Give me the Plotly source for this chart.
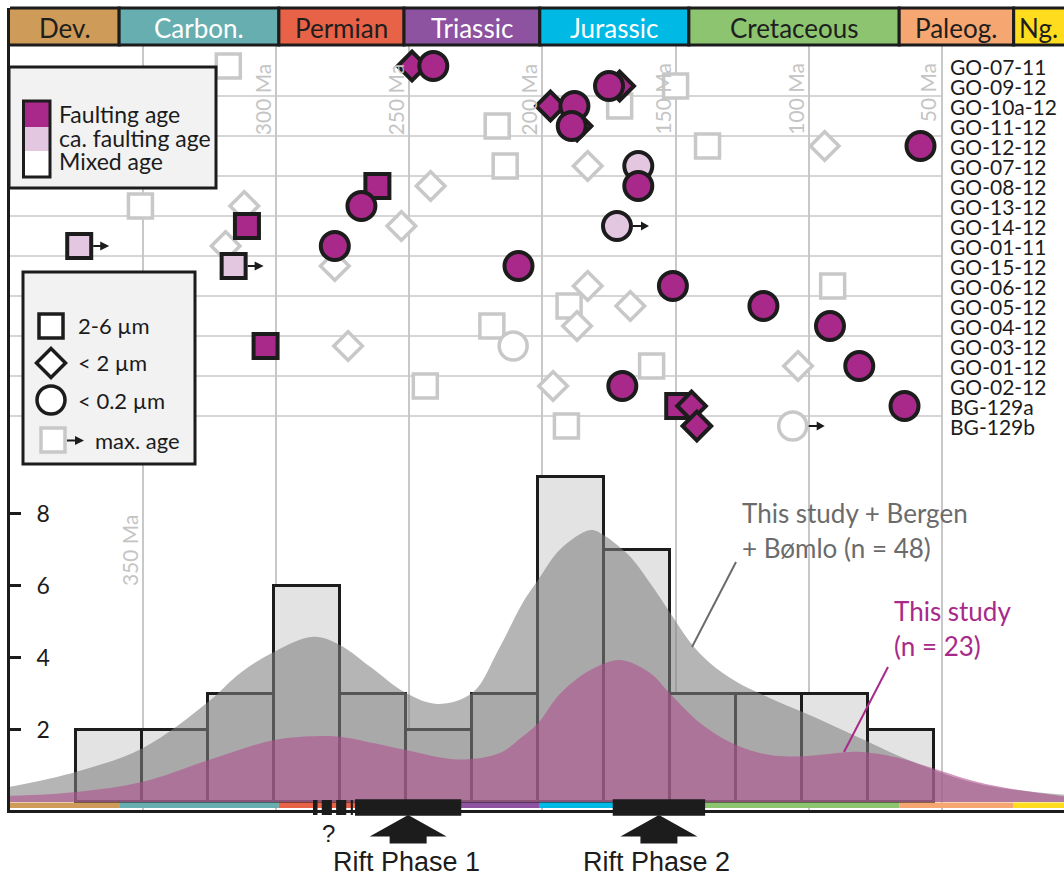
import plotly.graph_objects as go

# ---------------- data ----------------
samples = ["GO-07-11", "GO-09-12", "GO-10a-12", "GO-11-12", "GO-12-12", "GO-07-12",
           "GO-08-12", "GO-13-12", "GO-14-12", "GO-01-11", "GO-15-12", "GO-06-12",
           "GO-05-12", "GO-04-12", "GO-03-12", "GO-01-12", "GO-02-12", "BG-129a", "BG-129b"]

# K-Ar ages (Ma) per grain-size fraction; type: F = faulting age, C = ca. faulting age, M = mixed age
age_2_6um = [318, 150, 171, 217, 138, 214, 262, 351, 311, 374, 316, 91, 190, 219, 304, 159, 244, 149, 191]
type_2_6um = ["M", "M", "M", "M", "M", "M", "F", "M", "F", "C", "C", "M", "M", "M", "F", "M", "M", "F", "M"]
age_lt2um = [249, 171, 197, 187, 94, 183, 242, 312, 253, 319, 278, 183, 167, 187, 273, 104, 196, 144, 142]
type_lt2um = ["F", "F", "F", "F", "M", "M", "M", "M", "M", "M", "M", "M", "M", "M", "M", "M", "M", "F", "F"]
age_lt02um = [241, 175, 188, 189, 58, 164, 164, 268, 172, 278, 209, 151, 117, 92, 211, 81, 170, 64, 106]
type_lt02um = ["F", "F", "F", "F", "F", "C", "F", "F", "C", "F", "F", "F", "F", "F", "M", "F", "F", "F", "M"]
# samples whose age is a maximum age
max_age_2_6um = ["GO-01-11", "GO-15-12"]
max_age_lt02um = ["GO-14-12", "BG-129b"]

# geological periods
period_names = ["Dev.", "Carbon.", "Permian", "Triassic", "Jurassic", "Cretaceous", "Paleog.", "Ng."]
period_start = [419, 359, 299, 252, 201, 145, 66, 23]
period_end = [359, 299, 252, 201, 145, 66, 23, 0]
period_colors = ["#cf9b58", "#66aeb0", "#e86248", "#8d52a0", "#00b9e4", "#8cc470", "#f6a670", "#ffdd1e"]
period_text = ["#1e1e1e", "#ffffff", "#1e1e1e", "#ffffff", "#ffffff", "#1e1e1e", "#1e1e1e", "#1e1e1e"]

# histogram (This study + Bergen + Bomlo, n = 48)
hist_center = [362.7, 337.9, 313.1, 288.3, 263.5, 238.8, 214.0, 189.2, 164.4, 139.6, 114.9, 90.1, 65.3]
hist_count = [2, 2, 3, 6, 3, 2, 3, 9, 7, 3, 3, 3, 2]
HIST_WIDTH = 24.8

# density curves (scaled to counts)
all_kde_age = [400, 375, 350, 325.5, 313.5, 300.7, 286, 276, 264.7, 251.2, 239.5, 226.4, 216, 207.6,
               201.6, 193.4, 182, 177, 167, 159.6, 152, 144.6, 137, 127.3, 114.5, 102.5, 90, 77.7,
               65.7, 53, 39.4, 28, 4]
all_kde_val = [0.42, 0.84, 1.5, 2.78, 3.58, 4.17, 4.58, 4.35, 3.75, 3.02, 2.72, 3.02, 4.3, 5.5,
               6.16, 7.0, 7.54, 7.4, 6.8, 6.07, 5.24, 4.44, 3.85, 3.34, 2.88, 2.5, 2.09, 1.67,
               1.26, 0.89, 0.56, 0.39, 0.2]
this_kde_age = [400, 375, 350, 325.5, 300.7, 283.5, 276, 251.2, 232, 216, 207.6, 201.6, 193.4, 182,
                170.8, 159.6, 152, 140.8, 127.3, 114.5, 102.5, 84.5, 77.7, 65.7, 53, 39.4, 28, 4]
this_kde_val = [0.17, 0.28, 0.56, 1.16, 1.72, 1.83, 1.81, 1.44, 1.18, 1.36, 1.81, 2.19, 3.0, 3.66,
                3.94, 3.58, 3.0, 2.19, 1.58, 1.3, 1.27, 1.39, 1.37, 1.21, 0.93, 0.61, 0.42, 0.15]

# rift phases (Ma)
rift_names = ["Rift Phase 1", "Rift Phase 2"]
rift_start = [270.4, 173.6]
rift_end = [230.5, 138.9]
rift1_uncertain_start = [286.2, 282.9, 277.5, 272.0]
rift1_uncertain_end = [284.5, 279.1, 273.7, 271.2]

grid_ma = [50, 100, 150, 200, 250, 300, 350]
hist_ticks = [2, 4, 6, 8]

# ---------------- geometry helpers ----------------
PL, PR, PT, PB = 10, 1064, 8, 810
AGE_L, AGE_R = 400.0, 4.1
ROW0_PX, ROW_PX = 66, 20
C0_PX, C_PX = 802, 36.06


def fx(px):
    return (px - PL) / (PR - PL)


def fy(py):
    return (PB - py) / (PB - PT)


FONT = "Lato, 'Open Sans', sans-serif"
INK = "#1c1c1c"
MAG = "#a8298a"
PINK = "#e3c6e0"
GREY = "#c8c8c8"

fig = go.Figure()

# histogram + density curves
fig.add_trace(go.Bar(x=hist_center, y=hist_count, width=HIST_WIDTH, yaxis="y2",
                     marker=dict(color="#e3e3e3", line=dict(color=INK, width=3)),
                     hoverinfo="skip"))
fig.add_trace(go.Scatter(x=all_kde_age, y=all_kde_val, yaxis="y2", mode="lines",
                         line=dict(width=0, shape="spline", smoothing=1.0, color="rgba(0,0,0,0)"),
                         fill="tozeroy", fillcolor="rgba(127,127,127,0.58)", hoverinfo="skip"))
fig.add_trace(go.Scatter(x=this_kde_age, y=this_kde_val, yaxis="y2", mode="lines",
                         line=dict(width=0, shape="spline", smoothing=1.0, color="rgba(0,0,0,0)"),
                         fill="tozeroy", fillcolor="rgba(176,81,143,0.6)", hoverinfo="skip"))

# sample points
SYM = {"2-6": ("square", 24), "<2": ("diamond", 22), "<0.2": ("circle", 28)}
FILL = {"F": MAG, "C": PINK, "M": "#ffffff"}
EDGE = {"F": (INK, 4), "C": (INK, 4), "M": (GREY, 3.5)}
fractions = [("2-6", age_2_6um, type_2_6um), ("<2", age_lt2um, type_lt2um),
             ("<0.2", age_lt02um, type_lt02um)]
for cat in ["M", "C", "F"]:
    for key, ages, types in fractions:
        xs = [a for a, t in zip(ages, types) if t == cat]
        ys = [i for i, t in enumerate(types) if t == cat]
        if not xs:
            continue
        sym, size = SYM[key]
        fig.add_trace(go.Scatter(x=xs, y=ys, mode="markers", hoverinfo="skip",
                                 marker=dict(symbol=sym, size=size, color=FILL[cat],
                                             line=dict(color=EDGE[cat][0], width=EDGE[cat][1]))))

shapes = []
annotations = []


def text(x, y, s, size, color, xref="paper", yref="paper", xanchor="left", yanchor="middle",
         family=FONT, **kw):
    annotations.append(dict(x=x, y=y, xref=xref, yref=yref, text=s, xanchor=xanchor, yanchor=yanchor,
                            showarrow=False, font=dict(family=family, size=size, color=color), **kw))


# horizontal gridlines (between sample pairs)
for k in range(1, len(samples) - 1, 2):
    shapes.append(dict(type="line", xref="x", yref="y", x0=400, x1=50, y0=k + 0.5, y1=k + 0.5,
                       line=dict(color=GREY, width=1.5), layer="below"))


# max-age arrows
def arrow_path(tail, head, tip, hh=4.5, sh=1.1):
    return (f"M {tail},{-sh} L {head},{-sh} L {head},{-hh} L {tip},0 "
            f"L {head},{hh} L {head},{sh} L {tail},{sh} Z")


for name in max_age_2_6um:
    i = samples.index(name)
    shapes.append(dict(type="path", xref="x", yref="y", xsizemode="pixel", ysizemode="pixel",
                       xanchor=age_2_6um[i], yanchor=i, path=arrow_path(14, 21, 30),
                       fillcolor=INK, line=dict(width=0), layer="above"))
for name in max_age_lt02um:
    i = samples.index(name)
    shapes.append(dict(type="path", xref="x", yref="y", xsizemode="pixel", ysizemode="pixel",
                       xanchor=age_lt02um[i], yanchor=i, path=arrow_path(16, 24, 32),
                       fillcolor=INK, line=dict(width=0), layer="above"))

# period bar (top) and strip (bottom)
for name, s, e, col, tcol in zip(period_names, period_start, period_end, period_colors, period_text):
    shapes.append(dict(type="rect", xref="x", yref="paper", x0=s, x1=e, y0=fy(45), y1=fy(8),
                       fillcolor=col, line=dict(color=INK, width=3), layer="above"))
    shapes.append(dict(type="rect", xref="x", yref="paper", x0=s, x1=e, y0=fy(808), y1=fy(802.5),
                       fillcolor=col, line=dict(width=0), layer="above"))
    vis_s, vis_e = min(s, AGE_L), max(e, AGE_R)
    text((vis_s + vis_e) / 2, fy(27.5), name, 26, tcol, xref="x", xanchor="center")

# gridline labels
for ma in grid_ma:
    top = 512 if ma == 350 else 61
    text(ma, fy(top), f"{ma} Ma", 21, "#c4c4c4", xref="x", xanchor="center", yanchor="top",
         textangle=-90, xshift=-14)

# sample labels
for i, name in enumerate(samples):
    text(fx(948), i, name, 21, INK, yref="y")

# legend box 1 (age meaning)
shapes.append(dict(type="rect", xref="paper", yref="paper", x0=fx(9), x1=fx(216), y0=fy(188), y1=fy(67),
                   fillcolor="#f2f2f2", line=dict(color=INK, width=3), layer="above"))
for c, a, b in [(MAG, 101, 127), (PINK, 127, 151), ("#ffffff", 151, 177)]:
    shapes.append(dict(type="rect", xref="paper", yref="paper", x0=fx(23.5), x1=fx(50), y0=fy(b), y1=fy(a),
                       fillcolor=c, line=dict(width=0), layer="above"))
shapes.append(dict(type="rect", xref="paper", yref="paper", x0=fx(23.5), x1=fx(50), y0=fy(177), y1=fy(101),
                   fillcolor="rgba(0,0,0,0)", line=dict(color=INK, width=3), layer="above"))
for txt, yy in [("Faulting age", 114), ("ca. faulting age", 137.5), ("Mixed age", 161)]:
    text(fx(57), fy(yy), txt, 23, INK)

# legend box 2 (grain size)
shapes.append(dict(type="rect", xref="paper", yref="paper", x0=fx(23), x1=fx(195), y0=fy(464), y1=fy(272),
                   fillcolor="#f2f2f2", line=dict(color=INK, width=3), layer="above"))
cx = 51
shapes.append(dict(type="rect", xref="paper", yref="paper", x0=fx(cx - 12), x1=fx(cx + 12),
                   y0=fy(326 + 12), y1=fy(326 - 12), fillcolor="#ffffff",
                   line=dict(color=INK, width=3.5), layer="above"))
d = 14.5
shapes.append(dict(type="path", xref="paper", yref="paper",
                   path=(f"M {fx(cx - d)},{fy(363)} L {fx(cx)},{fy(363 - d)} L {fx(cx + d)},{fy(363)} "
                         f"L {fx(cx)},{fy(363 + d)} Z"),
                   fillcolor="#ffffff", line=dict(color=INK, width=3.5), layer="above"))
shapes.append(dict(type="circle", xref="paper", yref="paper", x0=fx(cx - 14), x1=fx(cx + 14),
                   y0=fy(400 + 14), y1=fy(400 - 14), fillcolor="#ffffff",
                   line=dict(color=INK, width=3.5), layer="above"))
shapes.append(dict(type="rect", xref="paper", yref="paper", x0=fx(53 - 12), x1=fx(53 + 12),
                   y0=fy(440 + 12), y1=fy(440 - 12), fillcolor="#ffffff",
                   line=dict(color=GREY, width=3.5), layer="above"))
ay = 440.5
shapes.append(dict(type="path", xref="paper", yref="paper",
                   path=(f"M {fx(67)},{fy(ay - 1.1)} L {fx(75)},{fy(ay - 1.1)} L {fx(75)},{fy(ay - 4.5)} "
                         f"L {fx(84)},{fy(ay)} L {fx(75)},{fy(ay + 4.5)} L {fx(75)},{fy(ay + 1.1)} "
                         f"L {fx(67)},{fy(ay + 1.1)} Z"),
                   fillcolor=INK, line=dict(width=0), layer="above"))
for txt, xx, yy in [("2-6 µm", 76, 325), ("< 2 µm", 76, 362), ("< 0.2 µm", 76, 400), ("max. age", 93, 440)]:
    text(fx(xx), fy(yy), txt, 22, INK)

# density labels + leader lines
shapes.append(dict(type="line", xref="paper", yref="paper", x0=fx(736), y0=fy(562), x1=fx(692), y1=fy(647),
                   line=dict(color="#6b6b6b", width=2), layer="above"))
shapes.append(dict(type="line", xref="paper", yref="paper", x0=fx(888), y0=fy(667), x1=fx(844), y1=fy(752),
                   line=dict(color=MAG, width=2), layer="above"))
for txt, xx, yy, col in [("This study + Bergen", 740, 513, "#6b6b6b"), ("+ Bømlo (n = 48)", 740, 548, "#6b6b6b"),
                         ("This study", 892, 611, MAG), ("(n = 23)", 892, 646, MAG)]:
    text(fx(xx), fy(yy), txt, 26, col)

# rift phases
RIFT_FONT = "'Liberation Sans', Arial, sans-serif"
for s, e in zip(rift1_uncertain_start, rift1_uncertain_end):
    shapes.append(dict(type="rect", xref="x", yref="paper", x0=s, x1=e, y0=fy(815), y1=fy(800),
                       fillcolor=INK, line=dict(width=0), layer="above"))
for name, s, e in zip(rift_names, rift_start, rift_end):
    shapes.append(dict(type="rect", xref="x", yref="paper", x0=s, x1=e, y0=fy(815.7), y1=fy(799.3),
                       fillcolor=INK, line=dict(width=0), layer="above"))
    mid = (s + e) / 2
    path = (f"M 0,{fy(815)} L 38.5,{fy(836.5)} L 18.5,{fy(836.5)} L 18.5,{fy(843.5)} "
            f"L -18.5,{fy(843.5)} L -18.5,{fy(836.5)} L -38.5,{fy(836.5)} Z")
    shapes.append(dict(type="path", xref="x", yref="paper", xsizemode="pixel", xanchor=mid, path=path,
                       fillcolor=INK, line=dict(width=0), layer="above"))
    text(mid, fy(861.5), name, 27, INK, xref="x", xanchor="center", family=RIFT_FONT, xshift=-2)
text(fx(328), fy(833), "?", 24, INK, xanchor="center", family=RIFT_FONT)

fig.update_layout(
    width=1064, height=877,
    margin=dict(l=PL, r=1064 - PR, t=PT, b=877 - PB, pad=0),
    paper_bgcolor="white", plot_bgcolor="white",
    showlegend=False, barmode="overlay", bargap=0,
    font=dict(family=FONT, color=INK),
    xaxis=dict(range=[AGE_L, AGE_R], showgrid=True, gridcolor=GREY, gridwidth=1.5, tick0=0, dtick=50,
               showticklabels=False, ticks="", zeroline=False, showline=True, linecolor=INK, linewidth=3),
    yaxis=dict(range=[(PB - ROW0_PX) / ROW_PX, (PT - ROW0_PX) / ROW_PX], showgrid=False, zeroline=False,
               showticklabels=False, ticks="", showline=True, linecolor=INK, linewidth=3),
    yaxis2=dict(overlaying="y", side="left", range=[(C0_PX - PB) / C_PX, (C0_PX - PT) / C_PX],
                tickvals=hist_ticks, ticks="inside", ticklen=11, tickwidth=2.5, tickcolor=INK,
                ticklabelposition="inside", ticklabelstandoff=17, showgrid=False, zeroline=False,
                showline=False, tickfont=dict(family=FONT, size=23, color=INK)),
    shapes=shapes,
    annotations=annotations,
)

fig.write_html("out.html", config={"displayModeBar": False},
               post_script="document.body.style.margin='0';document.body.style.overflow='hidden';")
